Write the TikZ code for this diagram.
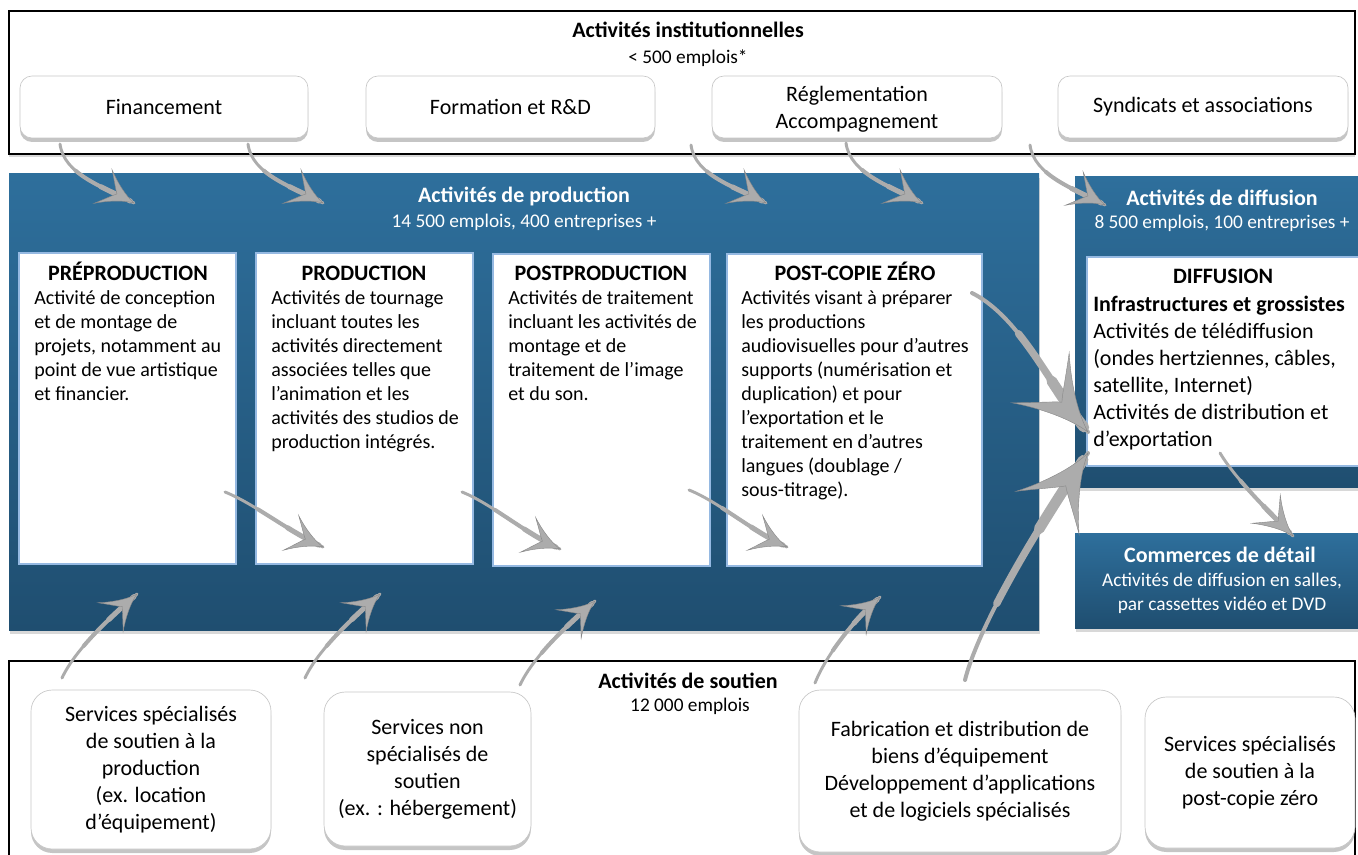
\documentclass[tikz,border=0pt]{standalone}
\usepackage{fontspec}
\setmainfont{Carlito}
\usetikzlibrary{shadows,fit,decorations.markings}
\definecolor{bluetop}{RGB}{46,111,156}
\definecolor{bluebot}{RGB}{31,78,112}
\definecolor{lightblue}{RGB}{149,185,226}
\definecolor{agray}{RGB}{172,172,172}
\definecolor{agraydark}{RGB}{135,135,135}
\tikzset{
  outerbox/.style={draw=black, line width=1.3pt, fill=white, inner sep=0pt,
    drop shadow={shadow xshift=0pt,shadow yshift=-2pt,opacity=0.3}},
  bluebox/.style={top color=bluetop, bottom color=bluebot, draw=none, inner sep=0pt,
    drop shadow={shadow xshift=1pt,shadow yshift=-3pt,opacity=0.3}},
  whitebox/.style={fill=white, draw=lightblue, line width=2.2pt, inner sep=0pt},
  pill/.style={fill=white, draw=black!22, line width=0.5pt, rounded corners=9pt, inner sep=0pt,
    drop shadow={shadow xshift=0pt,shadow yshift=-3pt,opacity=0.45}},
  bigpill/.style={pill, rounded corners=16pt},
  ptext/.style={align=center, inner sep=0pt, font=\fontsize{16.5}{20.2}\selectfont},
  ttl/.style={anchor=base, inner sep=0pt, font=\bfseries\fontsize{16.5}{20}\selectfont},
  subttl/.style={anchor=base, inner sep=0pt, font=\fontsize{14.5}{18}\selectfont},
  body/.style={anchor=north west, inner sep=0pt, align=left, font=\fontsize{15}{18}\selectfont},
  sketch/.style n args={3}{draw=agray, line width=#1, line cap=round,
    postaction={decorate, decoration={markings, mark=at position 0.9999 with {
      \fill[agray, draw=agraydark, line width=0.3pt] (0,0)
        .. controls (-0.3*#2,0.12*#3) and (-0.7*#2,0.55*#3) .. (-#2,#3)
        .. controls (-0.75*#2,0.45*#3) and (-0.62*#2,0.12*#3) .. (-0.55*#2,0)
        .. controls (-0.62*#2,-0.12*#3) and (-0.75*#2,-0.45*#3) .. (-#2,-#3)
        .. controls (-0.7*#2,-0.55*#3) and (-0.3*#2,-0.12*#3) .. cycle;}}}},
  small/.style={sketch={2.2pt}{35}{19}},
  big/.style={sketch={3pt}{72}{38}},
}
% thicker stroke on the last part of a curve (taper)
\newcommand\thicken[6]{%
  \begin{pgfscope}
  \pgfsetlinewidth{#2}\pgfsetstrokecolor{agray}\pgfsetroundcap
  \pgfpathcurvebetweentime{#1}{0.96}{\pgfpointanchor{#3}{center}}{\pgfpointanchor{#4}{center}}{\pgfpointanchor{#5}{center}}{\pgfpointanchor{#6}{center}}
  \pgfusepath{stroke}
  \end{pgfscope}}
% sketch arrow: style, name, start, control1, control2, tip, width2, width3
\newcommand\sk[8]{%
  \coordinate (#2-s) at (#3); \coordinate (#2-c) at (#4);
  \coordinate (#2-d) at (#5); \coordinate (#2-t) at (#6);
  \thicken{0.35}{#7}{#2-s}{#2-c}{#2-d}{#2-t}
  \thicken{0.65}{#8}{#2-s}{#2-c}{#2-d}{#2-t}
  \draw[#1] (#2-s) .. controls (#2-c) and (#2-d) .. (#2-t);}
\begin{document}
\begin{tikzpicture}[x=0.75pt,y=-0.75pt]
\useasboundingbox (0,0) rectangle (1358,855);
\fill[white] (0,0) rectangle (1358,855);

% ---- outer frames
\node[outerbox, fit={(9,11) (1355,154)}] (topbox) {};
\node[outerbox, fit={(9,661) (1355,880)}] (botbox) {};

% ---- institutional boxes
\node[pill, fit={(20,76) (308,138)}] (fin) {};
\node[pill, fit={(366,76) (655,138)}] (form) {};
\node[pill, fit={(712,76) (1002,138)}] (regl) {};
\node[pill, fit={(1058,76) (1348,138)}] (synd) {};
\node[ptext] (finT) at (fin.center) {Financement};
\node[ptext] (formT) at (form.center) {Formation et R\&D};
\node[ptext] (reglT) at ([yshift=-1.5pt]regl.center) {Réglementation\\Accompagnement};
\node[ptext] (syndT) at (synd.center) {Syndicats et associations};
\node[ttl] (instT) at (688,38) {Activités institutionnelles};
\node[subttl] (instS) at (688,64) {< 500 emplois*};

% ---- production
\node[bluebox, fit={(9,174) (1039,630)}] (prodbox) {};
\node[ttl, text=white] (prodT) at (524,203) {Activités de production};
\node[subttl, text=white] (prodS) at (524,228) {14 500 emplois, 400 entreprises +};

\node[whitebox, fit={(19,253) (236,564)}] (pre) {};
\node[whitebox, fit={(256,253) (473,564)}] (prod) {};
\node[whitebox, fit={(493,254) (710,566)}] (post) {};
\node[whitebox, fit={(727,254) (982,566)}] (pcz) {};

\node[ttl] (preT) at (128,281) {PRÉPRODUCTION};
\node[ttl] (prodTT) at (364,281) {PRODUCTION};
\node[ttl] (postT) at (601,281) {POSTPRODUCTION};
\node[ttl] (pczT) at (855,281) {POST-COPIE ZÉRO};

\node[body] (preB) at (34,290) {Activité de conception\\et de montage de\\projets, notamment au\\point de vue artistique\\et financier.};
\node[body] (prodB) at (271,290) {Activités de tournage\\incluant toutes les\\activités directement\\associées telles que\\l’animation et les\\activités des studios de\\production intégrés.};
\node[body] (postB) at (508,290) {Activités de traitement\\incluant les activités de\\montage et de\\traitement de l’image\\et du son.};
\node[body] (pczB) at (741,290) {Activités visant à préparer\\les productions\\audiovisuelles pour d’autres\\supports (numérisation et\\duplication) et pour\\l’exportation et le\\traitement en d’autres\\langues (doublage /\\sous-titrage).};

% ---- diffusion
\node[bluebox, fit={(1075,177) (1370,487)}] (diffbox) {};
\node[ttl, text=white] (diffT) at (1222,206) {Activités de diffusion};
\node[subttl, text=white] (diffS) at (1222,229) {8 500 emplois, 100 entreprises +};
\node[whitebox, fit={(1087,257) (1370,466)}] (diff) {};
\node[ttl] (diffTT) at (1223,284) {DIFFUSION};
\node[body, font=\fontsize{16.5}{20.25}\selectfont] (diffB) at (1093,296) {\textbf{Infrastructures et grossistes}\\Activités de télédiffusion\\(ondes hertziennes, câbles,\\satellite, Internet)\\Activités de distribution et\\d’exportation};

\node[bluebox, fit={(1075,533) (1370,628)}] (comm) {};
\node[ttl, text=white] (commT) at (1220,562) {Commerces de détail};
\node[subttl, text=white, align=center, anchor=north] (commS) at (1222,573) {Activités de diffusion en salles,\\par cassettes vidéo et DVD};

% ---- support
\node[ttl] (soutT) at (688,688) {Activités de soutien};
\node[subttl] (soutS) at (690,711) {12 000 emplois};
\node[bigpill, fit={(31,690) (271,849)}] (sss) {};
\node[bigpill, fit={(324,692) (531,846)}] (sns) {};
\node[bigpill, fit={(799,690) (1121,852)}] (fab) {};
\node[bigpill, fit={(1145,697) (1355,848)}] (ssp) {};
\node[ptext] (sssT) at (sss.center) {Services spécialisés\\de soutien à la\\production\\(ex. location\\d’équipement)};
\node[ptext] (snsT) at (sns.center) {Services non\\spécialisés de\\soutien\\(ex. : hébergement)};
\node[ptext] (fabT) at (fab.center) {Fabrication et distribution de\\biens d’équipement\\Développement d’applications\\et de logiciels spécialisés};
\node[ptext] (sspT) at (ssp.center) {Services spécialisés\\de soutien à la\\post-copie zéro};

% ---- arrows
\sk{small}{a1}{60,144}{64,175}{104,187}{134,203}{3pt}{3.8pt}
\sk{small}{a2}{248,144}{252,175}{293,187}{323,203}{3pt}{3.8pt}
\sk{small}{a3}{691,145}{695,176}{736,187}{766,203}{3pt}{3.8pt}
\sk{small}{a4}{846,143}{850,174}{892,187}{922,203}{3pt}{3.8pt}
\sk{small}{a5}{1030,145}{1034,176}{1075,189}{1105,205}{3pt}{3.8pt}
\sk{small}{a6}{225,492}{255,504}{289,532}{323,547}{3pt}{3.8pt}
\sk{small}{a7}{462,492}{492,504}{526,534}{560,549}{3pt}{3.8pt}
\sk{small}{a8}{689,490}{719,502}{753,532}{787,547}{3pt}{3.8pt}
\sk{small}{b1}{62,678}{76,648}{113,615}{137,594}{3pt}{3.8pt}
\sk{small}{b2}{305,678}{319,648}{356,615}{380,594}{3pt}{3.8pt}
\sk{small}{b3}{520,685}{534,655}{571,622}{595,601}{3pt}{3.8pt}
\sk{small}{b4}{815,683}{827,653}{856,618}{880,597}{3pt}{3.8pt}
\sk{big}{a9}{972,293}{1022,318}{1053,392}{1088,432}{5.5pt}{8pt}
\sk{big}{a10}{965,680}{980,620}{1048,512}{1088,453}{5.5pt}{8pt}
\sk{sketch={2.2pt}{38}{20}}{a11}{1220,453}{1235,478}{1265,508}{1293,536}{3pt}{3.8pt}
\end{tikzpicture}
\end{document}
